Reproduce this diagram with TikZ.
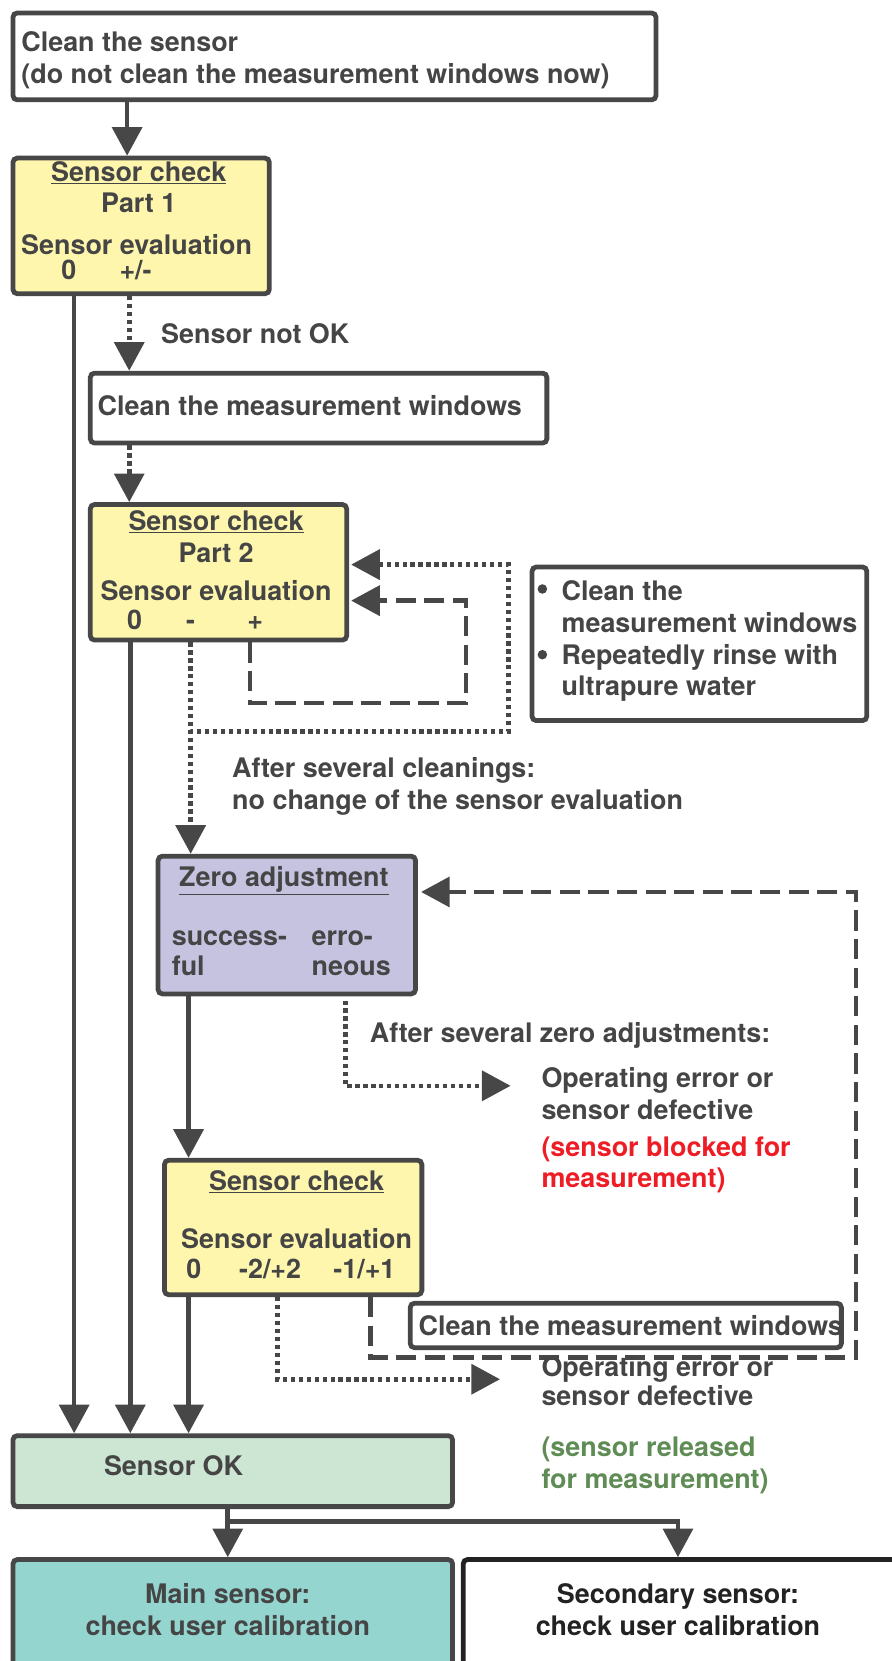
\documentclass[tikz,border=0pt]{standalone}
\usepackage{fontspec}
\setmainfont{TeX Gyre Heros}
\usetikzlibrary{arrows.meta,calc}
\definecolor{tg}{HTML}{454545}
\definecolor{lg}{HTML}{474747}
\definecolor{yel}{HTML}{FFF6AE}
\definecolor{lav}{HTML}{C6C3E1}
\definecolor{lgreen}{HTML}{CCE6D3}
\definecolor{teal2}{HTML}{94D5D0}
\definecolor{redt}{HTML}{EE1C25}
\definecolor{greent}{HTML}{5F8C55}
\definecolor{blk}{HTML}{222222}
\begin{document}
\begin{tikzpicture}[x=1pt,y=-1pt,
  box/.style={draw=lg, line width=4.5pt, rounded corners=4pt, anchor=north west, inner sep=0pt},
  txt/.style={anchor=base west, inner sep=0pt, text=tg, font=\bfseries\fontsize{25.4}{30}\selectfont},
  ctxt/.style={txt, anchor=base},
  dotnode/.style={circle, fill=tg, inner sep=0pt, minimum size=9pt},
  arr/.style={draw=lg, line width=4.3pt, -{Triangle[length=27pt,width=28pt]}},
  dotl/.style={dash pattern=on 4pt off 3.5pt},
  dashl/.style={dash pattern=on 19pt off 8pt}]
\useasboundingbox (0,0) rectangle (842,1568);
% boxes
\node[box, fill=white, minimum width=607pt, minimum height=82pt] (b1) at (10,10) {};
\node[box, fill=yel, minimum width=242pt, minimum height=128pt] (sc1) at (10,147) {};
\node[box, fill=white, minimum width=431pt, minimum height=66pt] (cmw1) at (83,350) {};
\node[box, fill=yel, minimum width=242pt, minimum height=128pt] (sc2) at (83,474) {};
\node[box, fill=white, minimum width=316pt, minimum height=145pt] (bul) at (500,533) {};
\node[box, fill=lav, minimum width=243pt, minimum height=130pt] (za) at (147,806) {};
\node[box, fill=yel, minimum width=243pt, minimum height=127pt] (sc3) at (153,1093) {};
\node[box, fill=white, minimum width=407pt, minimum height=42pt] (cmw2) at (385,1228) {};
\node[box, fill=lgreen, minimum width=415pt, minimum height=67pt] (ok) at (10,1353) {};
\node[box, fill=teal2, minimum width=415pt, minimum height=140pt] (main) at (10,1470) {};
\node[box, draw=blk, fill=white, minimum width=460pt, minimum height=140pt] (sec) at (435,1470) {};
% coordinates for free ends
\coordinate (oe1) at (482,1025);
\coordinate (oe2) at (472,1302);
% connectors
\draw[arr] ($(b1.south west)+(110,0)$) -- ($(sc1.north west)+(110,0)$);
\draw[arr] ($(sc1.south west)+(60,0)$) -- ($(ok.north west)+(60,0)$);
\draw[arr,dotl] ($(sc1.south west)+(112,0)$) -- ($(cmw1.north west)+(39,0)$);
\draw[arr,dotl] ($(cmw1.south west)+(39,0)$) -- ($(sc2.north west)+(39,0)$);
\draw[arr] ($(sc2.south west)+(40,0)$) -- ($(ok.north west)+(113,0)$);
\draw[arr,dotl] ($(sc2.south west)+(97,0)$) -- ++(0,84) -| (480,533) -- ($(sc2.north east)+(2,59)$);
\draw[arr,dotl] ($(sc2.south west)+(97,0)$) -- ($(za.north west)+(33,0)$);
\draw[arr,dashl] ($(sc2.south west)+(153,0)$) -- ++(0,57) -| (440,567) -- ($(sc2.north east)+(2,93)$);
\draw[arr] ($(za.south west)+(31,0)$) -- ($(sc3.north west)+(25,0)$);
\draw[arr,dotl] ($(za.south west)+(179,4)$) |- (oe1);
\draw[arr] ($(sc3.south west)+(25,0)$) -- ($(ok.north west)+(168,0)$);
\draw[arr,dotl] ($(sc3.south west)+(109,0)$) |- (oe2);
\draw[arr,dashl] ($(sc3.south west)+(197,0)$) -- ++(0,57) -| (808,842) -- ($(za.north east)+(3,36)$);
\draw[arr] ($(ok.south west)+(205,0)$) -- ($(main.north west)+(205,0)$);
\draw[arr] ($(ok.south west)+(205,0)$) -- ++(0,12) -| ($(sec.north west)+(205,0)$);
% texts
\node[txt] (t1a) at (20,49) {Clean the sensor};
\node[txt] (t1b) at (20,79) {(do not clean the measurement windows now)};
\node[ctxt] (s1a) at (131,171) {\underline{Sensor check}};
\node[ctxt] (s1b) at (131,201) {Part 1};
\node[ctxt] (s1c) at (129,240) {Sensor evaluation};
\node[ctxt] (s1d) at (65,264) {0};
\node[ctxt] (s1e) at (128,264) {+/-};
\node[txt] (lnok) at (152,324) {Sensor not OK};
\node[txt] (c1t) at (92,392) {Clean the measurement windows};
\node[ctxt] (s2a) at (204,501) {\underline{Sensor check}};
\node[ctxt] (s2b) at (204,531) {Part 2};
\node[ctxt] (s2c) at (204,567) {Sensor evaluation};
\node[ctxt] (s2d) at (127,594) {0};
\node[ctxt] (s2e) at (180,594) {-};
\node[ctxt] (s2f) at (241,594) {+};
\node[dotnode] (bu1) at (512,556) {};
\node[dotnode] (bu2) at (512,618) {};
\node[txt] (bt1) at (530,567) {Clean the};
\node[txt] (bt2) at (530,597) {measurement windows};
\node[txt] (bt3) at (530,627) {Repeatedly rinse with};
\node[txt] (bt4) at (530,657) {ultrapure water};
\node[txt] (ac1) at (219,734) {After several cleanings:};
\node[txt] (ac2) at (219,764) {no change of the sensor evaluation};
\node[ctxt] (za1) at (268,837) {\underline{Zero adjustment}};
\node[txt] (za2) at (162,893) {success-};
\node[txt] (za3) at (162,921) {ful};
\node[txt] (za4) at (294,893) {erro-};
\node[txt] (za5) at (294,921) {neous};
\node[txt] (az1) at (349,984) {After several zero adjustments:};
\node[txt] (oa1) at (511,1027) {Operating error or};
\node[txt] (oa2) at (511,1057) {sensor defective};
\node[txt, text=redt] (oa3) at (511,1092) {(sensor blocked for};
\node[txt, text=redt] (oa4) at (511,1121) {measurement)};
\node[ctxt] (s3a) at (280,1124) {\underline{Sensor check}};
\node[ctxt] (s3b) at (280,1179) {Sensor evaluation};
\node[ctxt] (s3c) at (183,1207) {0};
\node[ctxt] (s3d) at (255,1207) {-2/+2};
\node[ctxt] (s3e) at (344,1207) {-1/+1};
\node[txt] (c2t) at (395,1261) {Clean the measurement windows};
\node[txt] (ob1) at (511,1299) {Operating error or};
\node[txt] (ob2) at (511,1327) {sensor defective};
\node[txt, text=greent] (ob3) at (511,1375) {(sensor released};
\node[txt, text=greent] (ob4) at (511,1405) {for measurement)};
\node[txt] (okt) at (98,1393) {Sensor OK};
\node[ctxt] (m1) at (215,1514) {Main sensor:};
\node[ctxt] (m2) at (215,1544) {check user calibration};
\node[ctxt, text=blk] (se1) at (640,1514) {Secondary sensor:};
\node[ctxt, text=blk] (se2) at (640,1544) {check user calibration};
\end{tikzpicture}
\end{document}
